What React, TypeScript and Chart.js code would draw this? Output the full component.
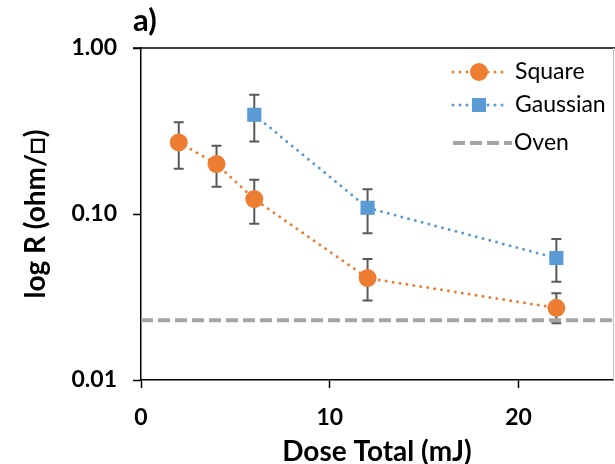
import React, { useEffect, useRef } from "react";
import { Chart, registerables } from "chart.js";

Chart.register(...registerables);

// ---- data ----
const squareDose = [2, 4, 6, 12, 22];
const squareR = [0.27, 0.2, 0.123, 0.0411, 0.0272];
const squareUpper = [0.357, 0.258, 0.161, 0.0536, 0.0333];
const squareLower = [0.187, 0.146, 0.0874, 0.0301, 0.022];

const gaussianDose = [6, 12, 22];
const gaussianR = [0.396, 0.109, 0.0543];
const gaussianUpper = [0.523, 0.141, 0.0707];
const gaussianLower = [0.273, 0.0766, 0.0391];

const ovenDose = [0, 25];
const ovenR = [0.0229, 0.0229];

const yTicks = [0.01, 0.1, 1];
const xTicks = [0, 10, 20];
const seriesLabels = ["Square", "Gaussian", "Oven"];
const panelLabel = "a)";
const xTitle = "Dose Total (mJ)";
const yTitle = "log R (ohm/\u25A1)";

const ORANGE = "#ED7D31";
const BLUE = "#5B9BD5";
const GRAY = "#A5A5A5";
const ERR = "#595959";
const FONT = "Lato, 'DejaVu Sans', sans-serif";

const toPoints = (xs: number[], ys: number[]) => xs.map((x, i) => ({ x, y: ys[i] }));

const errorBars = [
  { xs: squareDose, hi: squareUpper, lo: squareLower },
  { xs: gaussianDose, hi: gaussianUpper, lo: gaussianLower },
];

const errorBarPlugin = {
  id: "errorBars",
  beforeDatasetsDraw(chart: any) {
    const { ctx, scales } = chart;
    const xs = scales.x;
    const ys = scales.y;
    ctx.save();
    ctx.strokeStyle = ERR;
    ctx.lineWidth = 2;
    errorBars.forEach((s) => {
      s.xs.forEach((xv, i) => {
        const px = xs.getPixelForValue(xv);
        const top = ys.getPixelForValue(s.hi[i]);
        const bot = ys.getPixelForValue(s.lo[i]);
        ctx.beginPath();
        ctx.moveTo(px, top);
        ctx.lineTo(px, bot);
        ctx.moveTo(px - 5, top);
        ctx.lineTo(px + 5, top);
        ctx.moveTo(px - 5, bot);
        ctx.lineTo(px + 5, bot);
        ctx.stroke();
      });
    });
    ctx.restore();
  },
};

const decorPlugin = {
  id: "decor",
  afterDraw(chart: any) {
    const { ctx, chartArea } = chart;
    const { left, right, top } = chartArea;
    ctx.save();
    // frame: top black, right gray
    ctx.strokeStyle = "#000";
    ctx.lineWidth = 1.5;
    ctx.beginPath();
    ctx.moveTo(left - 8, top);
    ctx.lineTo(right + 2, top);
    ctx.stroke();
    ctx.strokeStyle = "#BFBFBF";
    ctx.lineWidth = 1;
    ctx.beginPath();
    ctx.moveTo(right + 0.5, top);
    ctx.lineTo(right + 0.5, chartArea.bottom);
    ctx.stroke();

    // panel label
    ctx.fillStyle = "#000";
    ctx.font = `bold 31px ${FONT}`;
    ctx.textAlign = "left";
    ctx.textBaseline = "middle";
    ctx.fillText(panelLabel, left - 8, 21);

    // legend
    const lx0 = 453;
    const lx1 = 506;
    const mx = 479;
    const rows = [72, 105, 143];
    ctx.font = `23px ${FONT}`;
    // Square
    ctx.lineCap = "round";
    ctx.setLineDash([0, 7]);
    ctx.lineWidth = 3;
    ctx.strokeStyle = ORANGE;
    ctx.beginPath();
    ctx.moveTo(lx0, rows[0]);
    ctx.lineTo(lx1, rows[0]);
    ctx.stroke();
    ctx.setLineDash([]);
    ctx.fillStyle = ORANGE;
    ctx.beginPath();
    ctx.arc(mx, rows[0], 9, 0, Math.PI * 2);
    ctx.fill();
    // Gaussian
    ctx.setLineDash([0, 7]);
    ctx.strokeStyle = BLUE;
    ctx.beginPath();
    ctx.moveTo(lx0, rows[1]);
    ctx.lineTo(lx1, rows[1]);
    ctx.stroke();
    ctx.setLineDash([]);
    ctx.fillStyle = BLUE;
    ctx.fillRect(mx - 7, rows[1] - 7, 14, 14);
    // Oven
    ctx.lineCap = "butt";
    ctx.setLineDash([12, 5]);
    ctx.lineWidth = 4;
    ctx.strokeStyle = GRAY;
    ctx.beginPath();
    ctx.moveTo(lx0, rows[2]);
    ctx.lineTo(512, rows[2]);
    ctx.stroke();
    ctx.setLineDash([]);
    ctx.fillStyle = "#000";
    ctx.fillText(seriesLabels[0], 515, rows[0]);
    ctx.fillText(seriesLabels[1], 515, rows[1]);
    ctx.fillText(seriesLabels[2], 514, rows[2]);
    ctx.restore();
  },
};

export default function App() {
  const ref = useRef<HTMLCanvasElement | null>(null);
  useEffect(() => {
    document.body.style.margin = "0";
    if (!ref.current) return;
    const chart = new Chart(ref.current, {
      type: "line",
      data: {
        datasets: [
          {
            label: seriesLabels[0],
            data: toPoints(squareDose, squareR),
            borderColor: ORANGE,
            backgroundColor: ORANGE,
            borderWidth: 3,
            borderDash: [0, 7],
            borderCapStyle: "round",
            pointStyle: "circle",
            pointRadius: 9,
            pointBorderWidth: 0,
            pointBackgroundColor: ORANGE,
          },
          {
            label: seriesLabels[1],
            data: toPoints(gaussianDose, gaussianR),
            borderColor: BLUE,
            backgroundColor: BLUE,
            borderWidth: 3,
            borderDash: [0, 7],
            borderCapStyle: "round",
            pointStyle: "rect",
            pointRadius: 10,
            pointBorderWidth: 0,
            pointBackgroundColor: BLUE,
          },
          {
            label: seriesLabels[2],
            data: toPoints(ovenDose, ovenR),
            borderColor: GRAY,
            borderWidth: 4,
            borderDash: [12, 5],
            pointRadius: 0,
          },
        ],
      } as any,
      options: {
        animation: false,
        responsive: false,
        layout: { autoPadding: false, padding: { top: 48, right: 2, left: 0, bottom: 0 } },
        plugins: {
          legend: { display: false },
          tooltip: { enabled: false },
          title: { display: false },
        },
        scales: {
          x: {
            type: "linear",
            min: 0,
            max: 25,
            afterBuildTicks: (s: any) => {
              s.ticks = xTicks.map((v) => ({ value: v }));
            },
            afterFit: (s: any) => {
              s.height = 84;
              s.paddingLeft = 0;
              s.paddingRight = 0;
            },
            grid: { display: true, drawOnChartArea: false, drawTicks: true, tickLength: 8, tickColor: "#000", tickWidth: 1.5 },
            border: { display: true, color: "#000", width: 1.5 },
            ticks: {
              color: "#000",
              padding: 16,
              font: { family: FONT, size: 23, weight: "bold" },
              callback: (v: any) => String(v),
            },
            title: {
              display: true,
              text: xTitle,
              color: "#000",
              font: { family: FONT, size: 28, weight: "bold" },
              padding: { top: 0, bottom: -5 },
            },
          },
          y: {
            type: "logarithmic",
            min: 0.01,
            max: 1,
            afterBuildTicks: (s: any) => {
              s.ticks = yTicks.map((v) => ({ value: v }));
            },
            afterFit: (s: any) => {
              s.width = 141;
              s.paddingTop = 0;
              s.paddingBottom = 0;
            },
            grid: { display: true, drawOnChartArea: false, drawTicks: true, tickLength: 8, tickColor: "#000", tickWidth: 1.5 },
            border: { display: true, color: "#000", width: 1.5 },
            ticks: {
              color: "#000",
              padding: 16,
              font: { family: FONT, size: 23, weight: "bold" },
              callback: (v: any) => Number(v).toFixed(2),
            },
            title: {
              display: true,
              text: yTitle,
              color: "#000",
              font: { family: FONT, size: 28, weight: "bold" },
              padding: { top: 19, bottom: 0 },
            },
          },
        },
      } as any,
      plugins: [errorBarPlugin, decorPlugin],
    });
    return () => chart.destroy();
  }, []);
  return (
    <div style={{ width: 615, height: 464 }}>
      <canvas ref={ref} width={615} height={464} />
    </div>
  );
}
